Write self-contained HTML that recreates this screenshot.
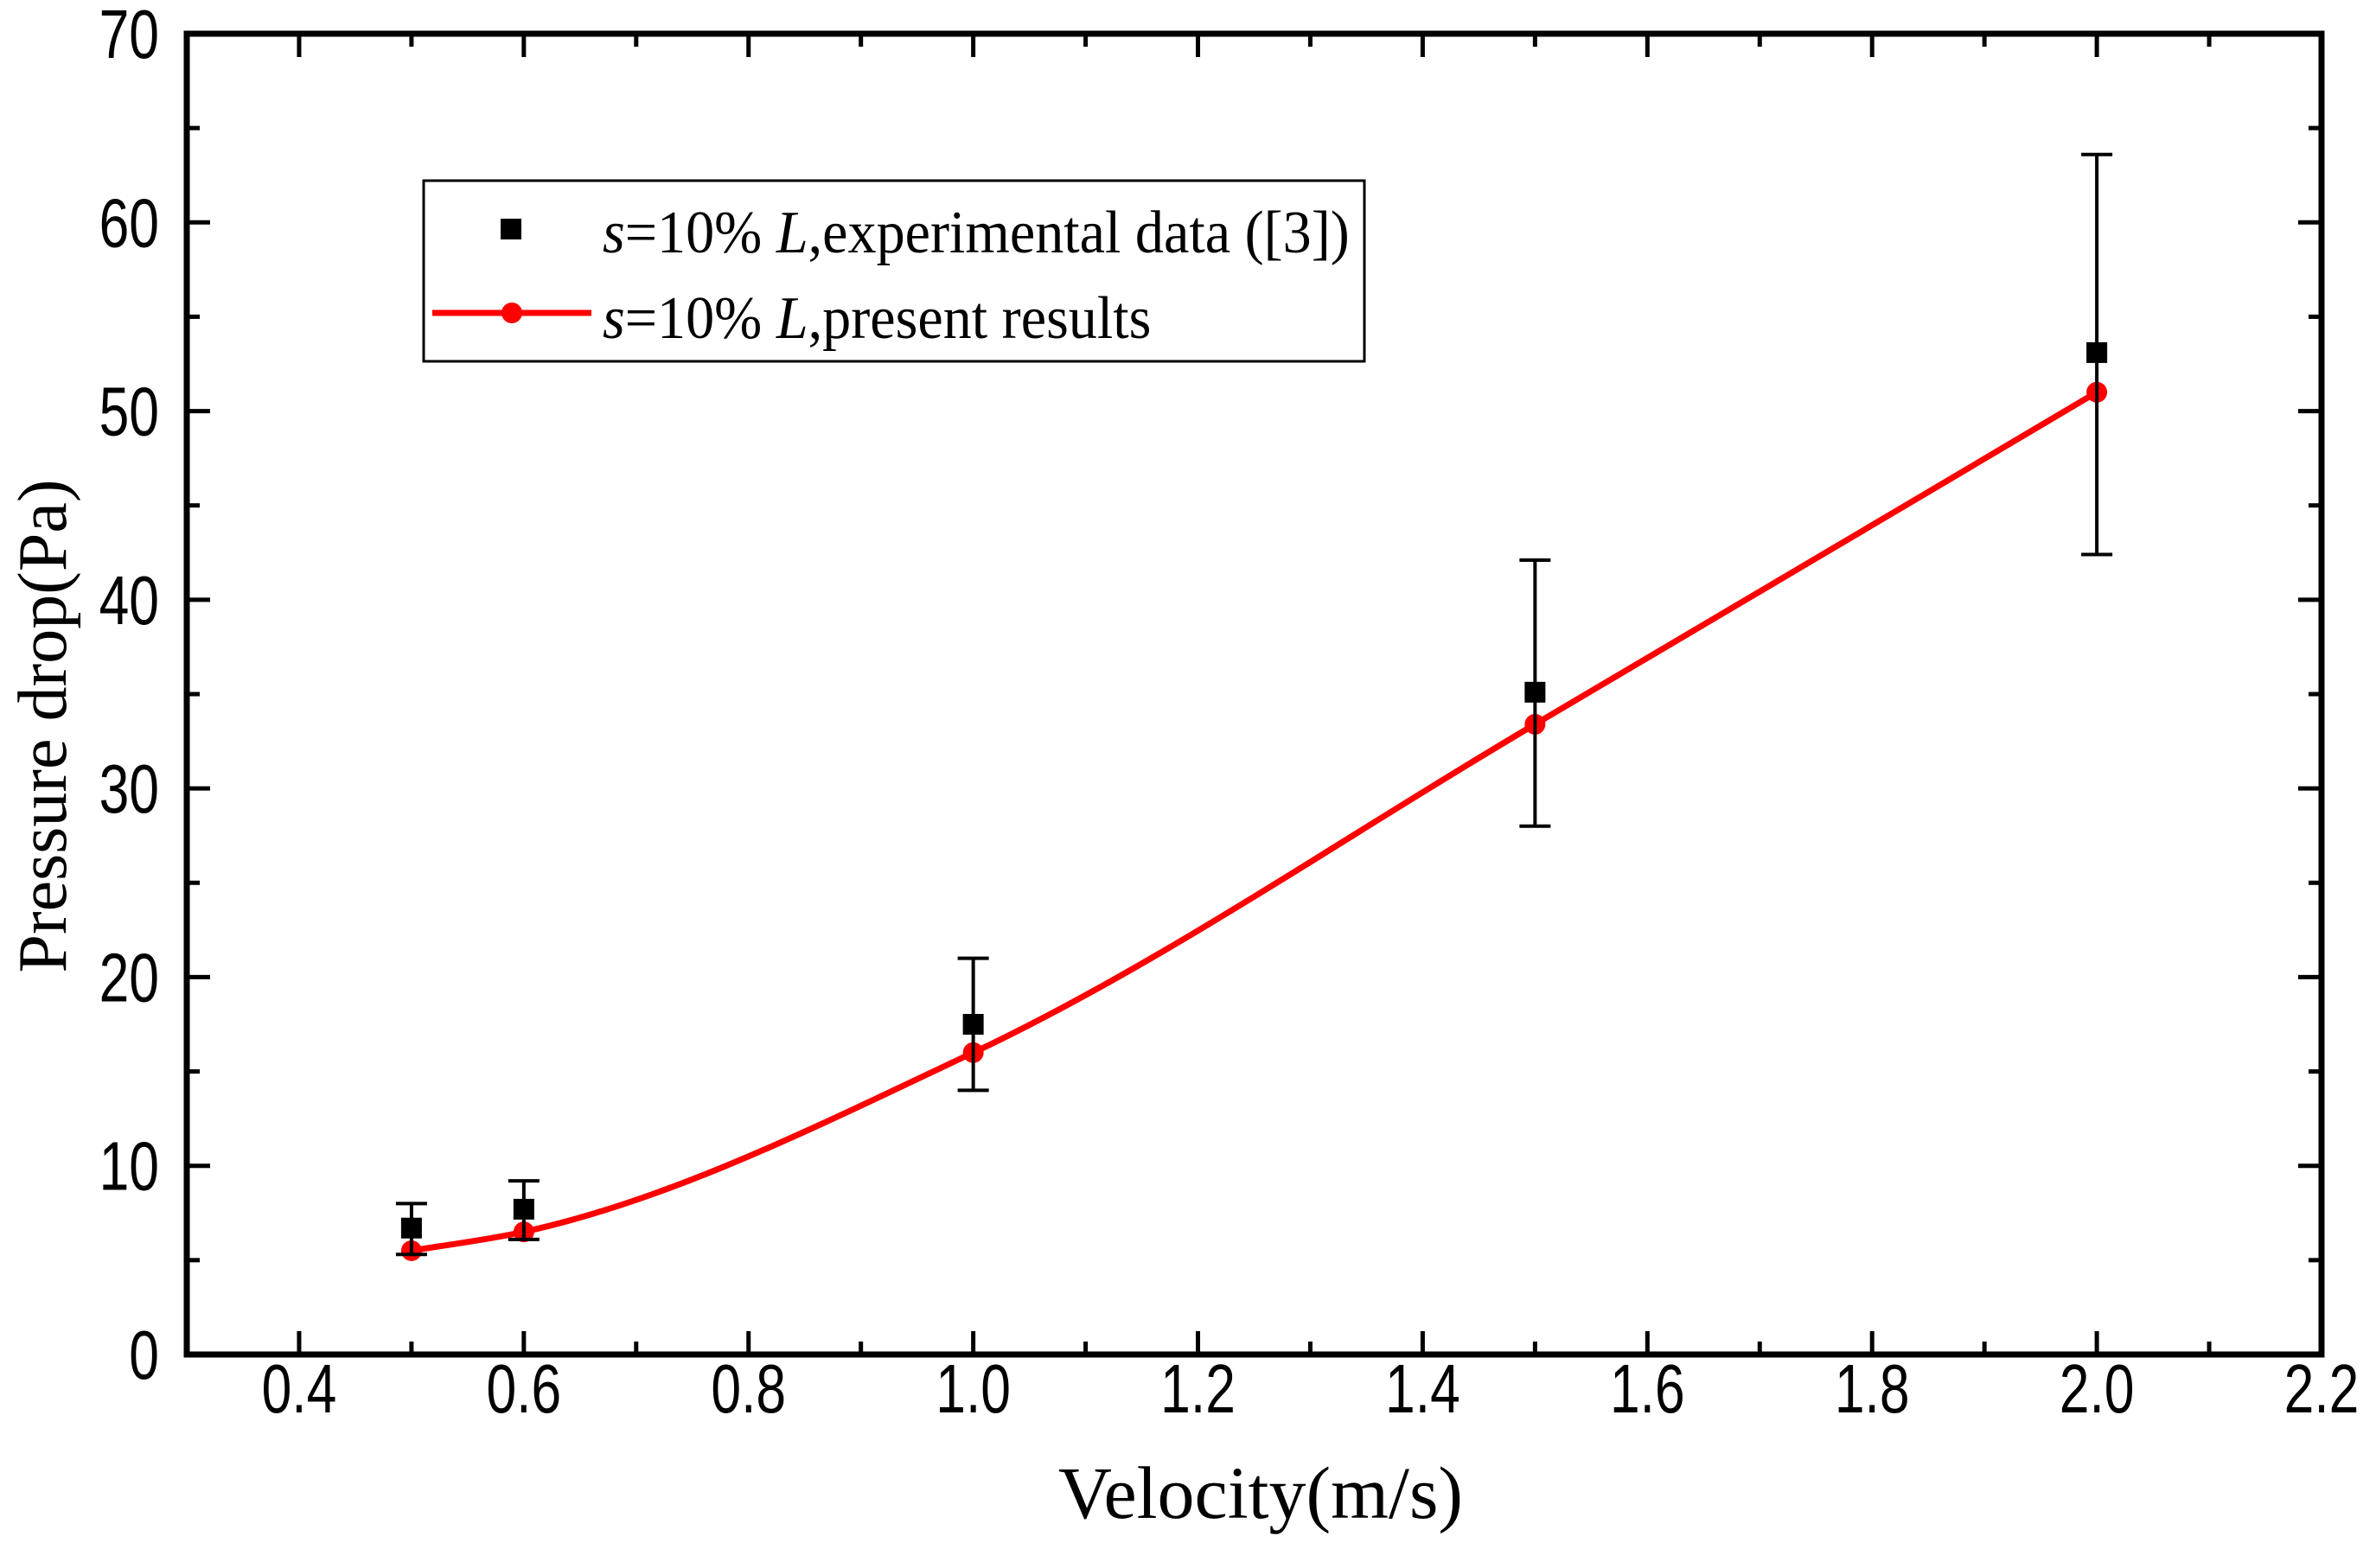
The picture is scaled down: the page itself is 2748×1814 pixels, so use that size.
<!DOCTYPE html>
<html><head><meta charset="utf-8"><style>
html,body{margin:0;padding:0;background:#fff;}
svg{display:block;}
</style></head><body>
<svg id="chart" width="2748" height="1814" viewBox="0 0 2748 1814" xmlns="http://www.w3.org/2000/svg"></svg>
<script>
const velocities = [0.5, 0.6, 1.0, 1.5, 2.0];
const expValues = [6.7, 7.7, 17.5, 35.1, 53.1];
const expLow = [5.3, 6.1, 14.0, 28.0, 42.4];
const expHigh = [8.0, 9.2, 21.0, 42.1, 63.6];
const simValues = [5.5, 6.5, 16.0, 33.4, 51.0];
const xTicks = [0.4, 0.6, 0.8, 1.0, 1.2, 1.4, 1.6, 1.8, 2.0, 2.2];
const xTickLabels = ["0.4","0.6","0.8","1.0","1.2","1.4","1.6","1.8","2.0","2.2"];
const yTicks = [0, 10, 20, 30, 40, 50, 60, 70];
const yTickLabels = ["0","10","20","30","40","50","60","70"];

const svg = document.getElementById('chart');
const NS = 'http://www.w3.org/2000/svg';
const L = 216, R = 2685, T = 39, B = 1567;
const xMin = 0.3, xMax = 2.2, yMin = 0, yMax = 70;
const xs = v => L + (v - xMin) / (xMax - xMin) * (R - L);
const ys = v => B - (v - yMin) / (yMax - yMin) * (B - T);
function mk(tag, attrs, parent) {
  const e = document.createElementNS(NS, tag);
  for (const k in attrs) e.setAttribute(k, attrs[k]);
  (parent || svg).appendChild(e);
  return e;
}
const FONT = '"Liberation Sans", Arial, sans-serif';
const SERIF = '"Liberation Serif", "Times New Roman", serif';

const tg = mk('g', {stroke: '#000', 'stroke-width': 5});


for (let v = 0.3; v <= 2.2001; v += 0.1) {
  const major = Math.abs(Math.round(v * 10) % 2) === 0;
  const len = major ? 27 : 15;
  const x = xs(v);
  mk('line', {x1: x, y1: B, x2: x, y2: B - len}, tg);
  mk('line', {x1: x, y1: T, x2: x, y2: T + len}, tg);
}
for (let v = 0; v <= 70; v += 5) {
  const major = v % 10 === 0;
  const len = major ? 27 : 15;
  const y = ys(v);
  mk('line', {x1: L, y1: y, x2: L + len, y2: y}, tg);
  mk('line', {x1: R, y1: y, x2: R - len, y2: y}, tg);
}
const frame = mk('rect', {x: L, y: T, width: R - L, height: B - T, fill: 'none', stroke: '#000', 'stroke-width': 7});



xTicks.forEach((v, i) => {
  const t = mk('text', {x: 0, y: 0, 'font-family': FONT, 'font-size': 80, 'text-anchor': 'middle', transform: `translate(${xs(v)},1634) scale(0.78,1)`});
  
  
  t.textContent = xTickLabels[i];
});
yTicks.forEach((v, i) => {
  const t = mk('text', {x: 0, y: 0, 'font-family': FONT, 'font-size': 80, 'text-anchor': 'end', transform: `translate(184,${ys(v) + 28}) scale(0.78,1)`});
  
  
  t.textContent = yTickLabels[i];
});

const xt = mk('text', {x: 1458, y: 1756, 'font-family': SERIF, 'font-size': 86, 'text-anchor': 'middle'});


xt.textContent = 'Velocity(m/s)';
const yt = mk('text', {x: 0, y: 0, 'font-family': SERIF, 'font-size': 80, 'text-anchor': 'middle', transform: 'translate(76,840) rotate(-90)'});


yt.textContent = 'Pressure drop(Pa)';

const pts = velocities.map((v, i) => [xs(v), ys(simValues[i])]);
const n = pts.length;
const dx = [], sl = [];
for (let i = 0; i < n - 1; i++) { dx.push(pts[i+1][0] - pts[i][0]); sl.push((pts[i+1][1] - pts[i][1]) / dx[i]); }
const m = [sl[0]];
for (let i = 1; i < n - 1; i++) {
  if (sl[i-1] * sl[i] <= 0) m.push(0);
  else m.push(3 * (dx[i-1] + dx[i]) / ((2*dx[i] + dx[i-1]) / sl[i-1] + (dx[i] + 2*dx[i-1]) / sl[i]));
}
m.push(sl[n-2]);
let d = `M${pts[0][0]},${pts[0][1]}`;
for (let i = 0; i < n - 1; i++) {
  const h = dx[i] / 3;
  d += ` C${pts[i][0] + h},${pts[i][1] + m[i]*h} ${pts[i+1][0] - h},${pts[i+1][1] - m[i+1]*h} ${pts[i+1][0]},${pts[i+1][1]}`;
}
const curve = mk('path', {d, fill: 'none', stroke: '#ff0000', 'stroke-width': 7});


pts.forEach(p => {
  const c = mk('circle', {cx: p[0], cy: p[1], r: 12, fill: '#ff0000'});
  
  
});

velocities.forEach((v, i) => {
  const x = xs(v);
  const g = mk('g', {stroke: '#000', 'stroke-width': 4});
  
  
  mk('line', {x1: x, y1: ys(expLow[i]), x2: x, y2: ys(expHigh[i])}, g);
  mk('line', {x1: x - 18, y1: ys(expLow[i]), x2: x + 18, y2: ys(expLow[i])}, g);
  mk('line', {x1: x - 18, y1: ys(expHigh[i]), x2: x + 18, y2: ys(expHigh[i])}, g);
  const s = mk('rect', {x: x - 12, y: ys(expValues[i]) - 12, width: 24, height: 24, fill: '#000'});
  
  
});

const lg = mk('g', {});


mk('rect', {x: 490, y: 209, width: 1088, height: 209, fill: '#fff', stroke: '#000', 'stroke-width': 3}, lg);
const sq = mk('rect', {x: 579, y: 253, width: 24, height: 24, fill: '#000'}, lg);


const ll = mk('line', {x1: 500, y1: 362, x2: 684, y2: 362, stroke: '#ff0000', 'stroke-width': 7}, lg);


const lc = mk('circle', {cx: 592, cy: 362, r: 12, fill: '#ff0000'}, lg);


function legendText(y, rest, name) {
  const t = mk('text', {x: 0, y: 0, 'font-family': SERIF, 'font-size': 70, transform: `translate(697,${y}) scale(0.945,1)`}, lg);
  
  
  t.innerHTML = '<tspan font-style="italic">s</tspan>=10% <tspan font-style="italic">L</tspan>,' + rest;
}
legendText(292, 'experimental data ([3])', 'legend-entry-experimental');
legendText(391, 'present results', 'legend-entry-present');
</script>
</body></html>
